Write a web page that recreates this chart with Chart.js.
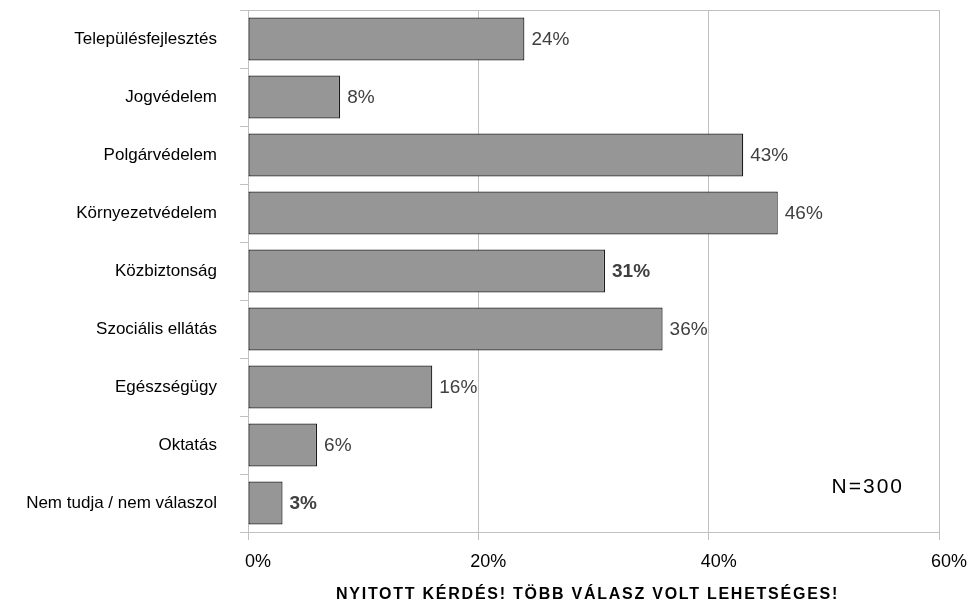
<!DOCTYPE html>
<html>
<head>
<meta charset="utf-8">
<script src="https://cdn.jsdelivr.net/npm/chart.js@4"></script>
<style>
html,body{margin:0;padding:0;background:#fff;}
#wrap{width:974px;height:607px;}
</style>
</head>
<body>
<div id="wrap"><canvas id="c" width="974" height="607"></canvas></div>
<script>
const categories = ['Településfejlesztés','Jogvédelem','Polgárvédelem','Környezetvédelem','Közbiztonság','Szociális ellátás','Egészségügy','Oktatás','Nem tudja / nem válaszol'];
const values = [24, 8, 43, 46, 31, 36, 16, 6, 3];
const xTicks = [0, 20, 40, 60];
const footerText = 'NYITOTT KÉRDÉS! TÖBB VÁLASZ VOLT LEHETSÉGES!';
const sampleText = 'N=300';
const boldLabelIdx = [4, 8];

const FONT = '"Liberation Sans", Arial, sans-serif';

const labelPlugin = {
  id: 'barLabels',
  afterDatasetsDraw(chart) {
    const ctx = chart.ctx;
    const meta = chart.getDatasetMeta(0);
    ctx.save();
    ctx.textBaseline = 'middle';
    ctx.textAlign = 'left';
    ctx.fillStyle = '#404040';
    meta.data.forEach((bar, i) => {
      const bold = boldLabelIdx.includes(i);
      ctx.font = (bold ? 'bold ' : '') + '19px ' + FONT;
      ctx.fillText(values[i] + '%', bar.x + 7, bar.y + 1);
    });
    ctx.restore();
  },
  afterDraw(chart) {
    const ctx = chart.ctx;
    const a = chart.chartArea;
    ctx.save();
    ctx.fillStyle = '#000';
    ctx.textBaseline = 'middle';
    ctx.font = '21px ' + FONT;
    ctx.textAlign = 'right';
    ctx.letterSpacing = '2px';
    ctx.fillText(sampleText, a.right - 35, a.bottom - 45);
    ctx.font = 'bold 16px ' + FONT;
    ctx.textAlign = 'center';
    ctx.letterSpacing = '1.75px';
    ctx.fillText(footerText, (a.left + a.right) / 2 - 6, 595);
    ctx.restore();
  }
};

new Chart(document.getElementById('c'), {
  type: 'bar',
  data: {
    labels: categories,
    datasets: [{
      data: values,
      backgroundColor: '#969696',
      borderColor: '#1a1a1a',
      borderWidth: 1.2,
      borderSkipped: false,
      categoryPercentage: 1,
      barPercentage: 0.74
    }]
  },
  options: {
    indexAxis: 'y',
    responsive: false,
    animation: false,
    layout: { padding: { top: 10, right: 35, left: 0, bottom: 0 } },
    plugins: { legend: { display: false }, tooltip: { enabled: false } },
    scales: {
      x: {
        min: 0, max: 60,
        afterBuildTicks(scale) { scale.ticks = xTicks.map(v => ({ value: v })); },
        afterFit(scale) { scale.height = 75; scale.paddingLeft = 0; scale.paddingRight = 0; },
        ticks: {
          callback: v => v + '%',
          color: '#000',
          font: { family: FONT, size: 18 },
          padding: 11,
          labelOffset: 10,
          maxRotation: 0
        },
        grid: { color: '#c0c0c0', tickColor: '#c0c0c0', tickLength: 8, lineWidth: 1 },
        border: { color: '#c0c0c0' }
      },
      y: {
        afterFit(scale) { scale.width = 248; scale.paddingTop = 0; scale.paddingBottom = 0; },
        ticks: {
          color: '#000',
          font: { family: FONT, size: 17 },
          padding: 23
        },
        grid: {
          offset: true,
          color: ctx => (ctx.index === 0 ? '#c0c0c0' : 'rgba(0,0,0,0)'),
          tickColor: '#c0c0c0',
          tickLength: 8
        },
        border: { color: '#c0c0c0' }
      }
    }
  },
  plugins: [labelPlugin]
});
</script>
</body>
</html>
